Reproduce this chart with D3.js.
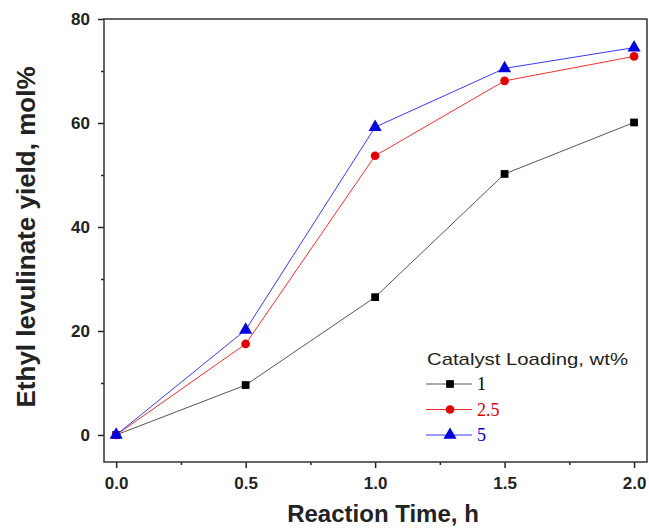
<!DOCTYPE html>
<html lang="en">
<head>
<meta charset="UTF-8">
<title>Ethyl levulinate yield</title>
<script src="https://d3js.org/d3.v7.min.js"></script>
<style>
  body { margin: 0; background: #fff; }
</style>
</head>
<body>
<script>
    // data
    var times = [0, 0.5, 1.0, 1.5, 2.0];
    var loading1 = [0, 9.6, 26.5, 50.2, 60.1];
    var loading25 = [0, 17.5, 53.7, 68.1, 72.8];
    var loading5 = [0, 20.2, 59.2, 70.5, 74.5];
    var seriesNames = ["1", "2.5", "5"];
    var xTicks = [0, 0.5, 1.0, 1.5, 2.0];
    var yTicks = [0, 20, 40, 60, 80];

    var margin = {top: 19, right: 2, bottom: 67, left: 104},
        width = 649 - margin.left - margin.right,
        height = 529 - margin.top - margin.bottom;

    var svg = d3.select("body").append("svg")
        .attr("width", 649)
        .attr("height", 529)
        .append("g")
        .attr("transform", "translate(" + margin.left + "," + margin.top + ")");

    var x = d3.scaleLinear().domain([-0.047, 2.05]).range([0, width]);
    var y = d3.scaleLinear().domain([-5.2, 80]).range([height, 0]);

    // minor ticks first, then major ticks with labels
    svg.append("g")
        .attr("transform", "translate(0," + height + ")")
        .call(d3.axisBottom(x).tickValues([0.25, 0.75, 1.25, 1.75]).tickSize(3).tickFormat(""))
        .select(".domain").remove();
    svg.append("g")
        .call(d3.axisLeft(y).tickValues([10, 30, 50, 70]).tickSize(3).tickFormat(""))
        .select(".domain").remove();

    var xAxis = svg.append("g")
        .attr("transform", "translate(0," + height + ")")
        .call(d3.axisBottom(x).tickValues(xTicks).tickSize(6).tickPadding(9).tickFormat(d3.format(".1f")));
    xAxis.select(".domain").remove();

    var yAxis = svg.append("g")
        .call(d3.axisLeft(y).tickValues(yTicks).tickSize(6).tickPadding(8).tickFormat(d3.format("d")));
    yAxis.select(".domain").remove();

    svg.selectAll(".tick line").attr("stroke", "#222").attr("stroke-width", 1.5);
    svg.selectAll(".tick text")
        .style("font-family", "Liberation Sans, Arial, sans-serif")
        .style("font-size", "17px")
        .style("font-weight", "bold")
        .attr("fill", "#222");

    // frame
    svg.append("rect")
        .attr("x", 0).attr("y", 0)
        .attr("width", width).attr("height", height)
        .attr("fill", "none")
        .attr("stroke", "#333")
        .attr("stroke-width", 1.5);

    var series = [
        {name: seriesNames[0], values: loading1, line: "#555", fill: "#000", shape: d3.symbolSquare},
        {name: seriesNames[1], values: loading25, line: "#f03030", fill: "#e00000", shape: d3.symbolCircle},
        {name: seriesNames[2], values: loading5, line: "#3a3aff", fill: "#0000dd", shape: d3.symbolTriangle}
    ];

    var line = d3.line()
        .x(d => x(d[0]))
        .y(d => y(d[1]));

    series.forEach(function(s) {
        var pts = times.map((t, i) => [t, s.values[i]]);
        svg.append("path")
            .datum(pts)
            .attr("d", line)
            .attr("fill", "none")
            .attr("stroke", s.line)
            .attr("stroke-width", 1);
        svg.append("g")
            .selectAll("path")
            .data(pts)
            .enter()
            .append("path")
            .attr("transform", d => "translate(" + x(d[0]) + "," + y(d[1]) + ")")
            .attr("d", d3.symbol().type(s.shape).size(s.shape === d3.symbolTriangle ? 75 : 60))
            .attr("fill", s.fill);
    });

    // axis titles
    svg.append("text")
        .attr("x", 383 - margin.left)
        .attr("y", 522 - margin.top)
        .attr("text-anchor", "middle")
        .style("font-family", "Liberation Sans, Arial, sans-serif")
        .style("font-size", "24px")
        .style("font-weight", "bold")
        .attr("fill", "#222")
        .text("Reaction Time, h");

    svg.append("text")
        .attr("transform", "rotate(-90)")
        .attr("x", -(237 - margin.top))
        .attr("y", 35 - margin.left)
        .attr("text-anchor", "middle")
        .style("font-family", "Liberation Sans, Arial, sans-serif")
        .style("font-size", "26px")
        .style("font-weight", "bold")
        .attr("fill", "#222")
        .text("Ethyl levulinate yield, mol%");

    // legend
    var legend = svg.append("g").attr("transform", "translate(" + (426 - margin.left) + ",0)");
    legend.append("text")
        .attr("x", 1)
        .attr("y", 365 - margin.top)
        .attr("textLength", 201)
        .attr("lengthAdjust", "spacingAndGlyphs")
        .style("font-family", "Liberation Sans, Arial, sans-serif")
        .style("font-size", "17px")
        .attr("fill", "#222")
        .text("Catalyst Loading, wt%");

    series.forEach(function(s, i) {
        var ly = 384 - margin.top + i * 25.5;
        legend.append("line")
            .attr("x1", 0).attr("x2", 46)
            .attr("y1", ly).attr("y2", ly)
            .attr("stroke", s.line)
            .attr("stroke-width", 1);
        legend.append("path")
            .attr("transform", "translate(24," + ly + ")")
            .attr("d", d3.symbol().type(s.shape).size(s.shape === d3.symbolTriangle ? 75 : 60))
            .attr("fill", s.fill);
        legend.append("text")
            .attr("x", 51)
            .attr("y", ly + 6)
            .style("font-family", "Liberation Serif, Times New Roman, serif")
            .style("font-size", "18px")
            .attr("fill", s.fill)
            .text(s.name);
    });
</script>
</body>
</html>
